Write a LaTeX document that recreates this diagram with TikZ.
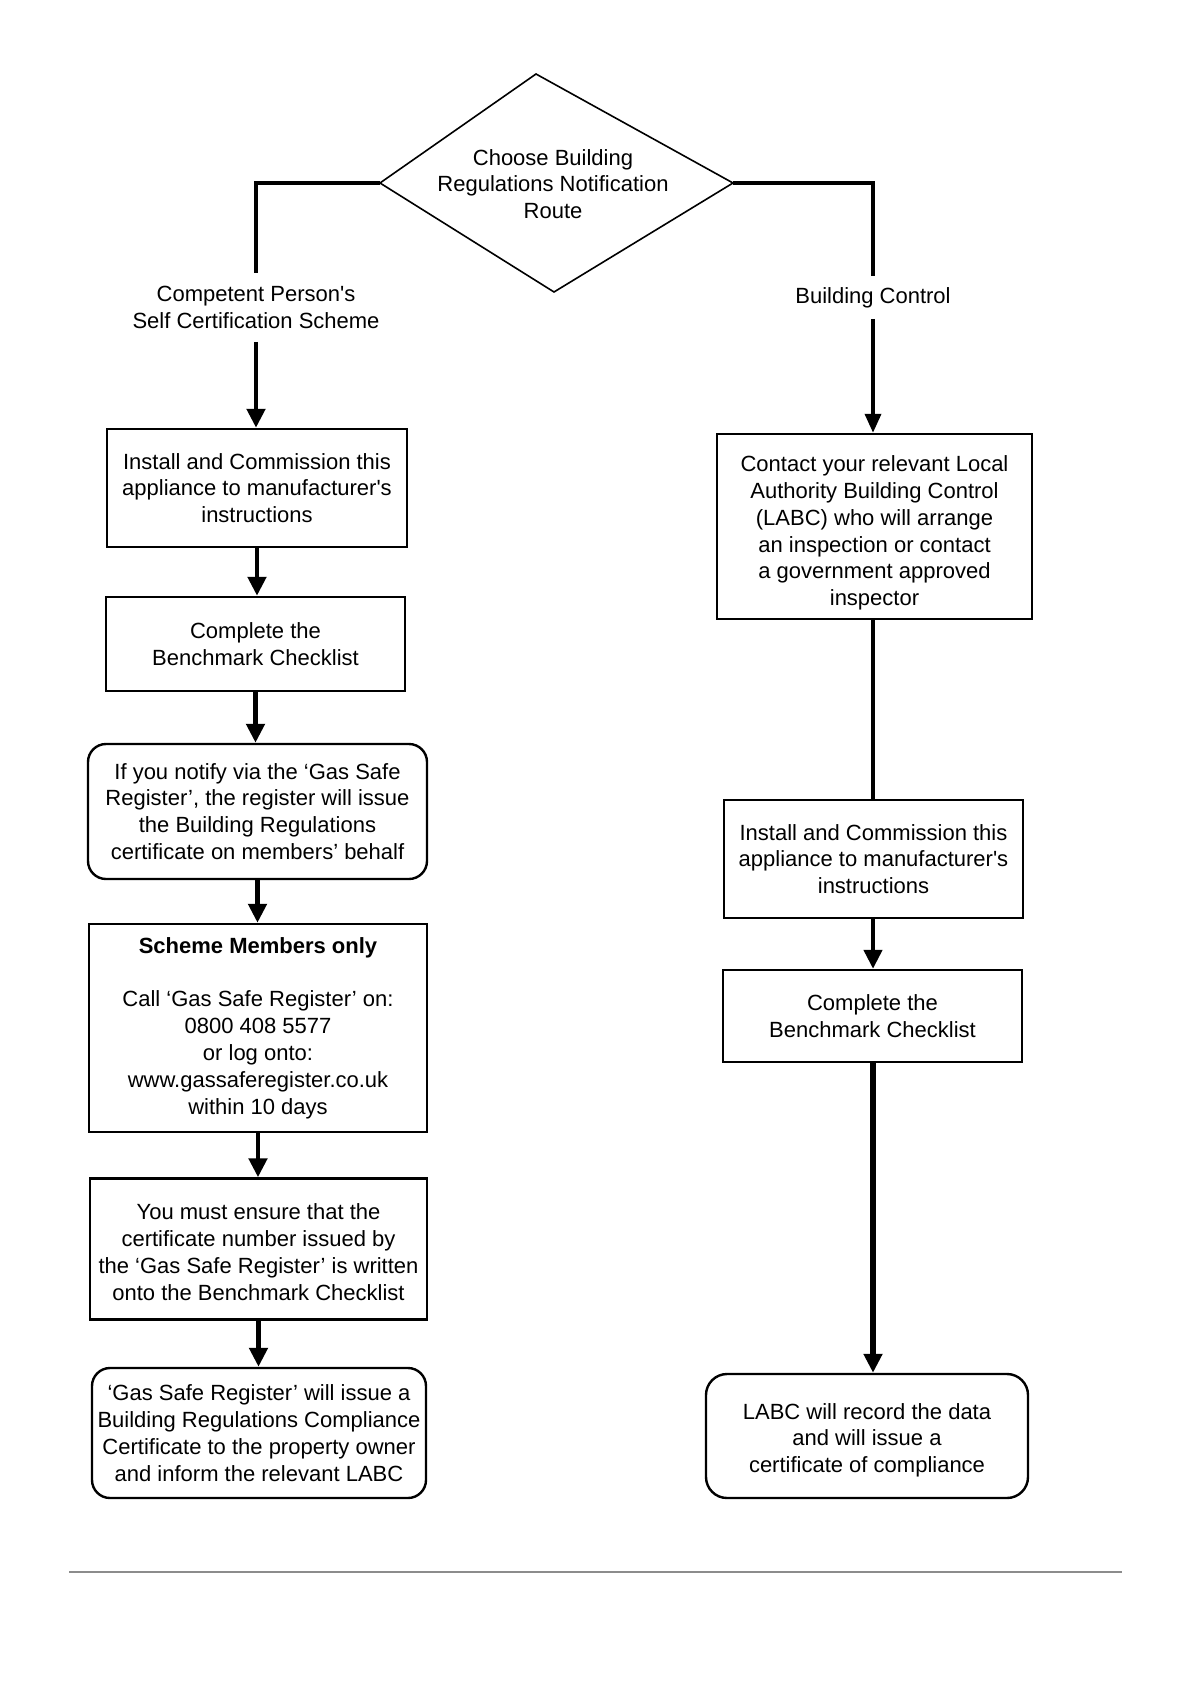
\documentclass[tikz,border=0pt]{standalone}
\usepackage{fontspec}
\setmainfont{Liberation Sans}[Ligatures=TeXOff]
\usetikzlibrary{arrows.meta}
\newcommand\topstrutx[1]{\rule{0pt}{#1}}
\begin{document}
\begin{tikzpicture}[x=0.5pt,y=-0.5pt,
  txt/.style={font=\fontsize{11}{13.4}\selectfont, align=center, inner sep=0pt},
  box/.style={txt, draw, line width=1.2pt},
  rbox/.style={box, rounded corners=9pt},
  diam/.style={draw, line width=0.8pt, line join=miter},
  conn/.style={line width=2.4pt},
  arr/.style={conn, -{Triangle[length=9.5pt,width=9pt]}},
  rule/.style={draw=black!45, line width=0.7pt}]
\useasboundingbox (0,0) rectangle (1190,1684);

% decision diamond
\coordinate (dT) at (536,74);
\coordinate (dR) at (733,183);
\coordinate (dB) at (554,292);
\coordinate (dL) at (380,183);
\draw[diam] (dT) -- (dR) -- (dB) -- (dL) -- cycle;
\node[txt] (dtext) at (553,184) {Choose Building\\Regulations Notification\\Route};

% branch labels
\node[txt, minimum height=34pt] (lab1) at (256,307.5) {Competent Person's\\Self Certification Scheme};
\node[txt, minimum height=21pt] (lab2) at (873,297.5) {Building Control};

% left column
\node[box, minimum width=150pt, minimum height=59pt] (L1) at (257,488)
  {Install and Commission this\\appliance to manufacturer's\\instructions};
\node[box, minimum width=149.5pt, minimum height=47pt] (L2) at (255.5,644)
  {Complete the\\Benchmark Checklist};
\node[rbox, minimum width=169.5pt, minimum height=67.5pt] (L3) at (257.5,811.5)
  {If you notify via the ‘Gas Safe\\Register’, the register will issue\\the Building Regulations\\certificate on members’ behalf};
\node[box, minimum width=169pt, minimum height=104pt] (L4) at (258,1028)
  {\textbf{Scheme Members only}\\[13.4pt]Call ‘Gas Safe Register’ on:\\0800 408 5577\\or log onto:\\www.gassaferegister.co.uk\\within 10 days};
\node[box, minimum width=168.5pt, minimum height=70.5pt] (L5) at (258.5,1249)
  {\topstrutx{11.2pt}You must ensure that the\\certificate number issued by\\the ‘Gas Safe Register’ is written\\onto the Benchmark Checklist};
\node[rbox, minimum width=167pt, minimum height=65pt] (L6) at (259,1433)
  {‘Gas Safe Register’ will issue a\\Building Regulations Compliance\\Certificate to the property owner\\and inform the relevant LABC};

% right column
\node[box, minimum width=157.5pt, minimum height=92.5pt] (R1) at (874.5,526.5)
  {\topstrutx{14.4pt}Contact your relevant Local\\Authority Building Control\\(LABC) who will arrange\\an inspection or contact\\a government approved\\inspector};
\node[box, minimum width=149.5pt, minimum height=59pt] (R2) at (873.5,859)
  {Install and Commission this\\appliance to manufacturer's\\instructions};
\node[box, minimum width=149.5pt, minimum height=46pt] (R3) at (872.5,1016)
  {Complete the\\Benchmark Checklist};
\node[rbox, rounded corners=10.5pt, minimum width=161pt, minimum height=62pt] (R4) at (867,1436)
  {\topstrutx{12.2pt}LABC will record the data\\and will issue a\\certificate of compliance};

% connectors: left route
\draw[conn, line width=2.2pt] (dL) -| (lab1.north);
\draw[arr] (lab1.south) -- (lab1.south |- L1.north);
\draw[arr] (L1.south) -- (L1.south |- L2.north);
\draw[arr] (L2.south) -- (L2.south |- L3.north);
\draw[arr] (L3.south) -- (L3.south |- L4.north);
\draw[arr] (L4.south) -- (L4.south |- L5.north);
\draw[arr] (L5.south) -- (L5.south |- L6.north);

% connectors: right route
\draw[conn, line width=2.2pt] (dR) -| (lab2.north);
\draw[arr, line width=1.8pt, -{Triangle[length=9.5pt,width=8pt]}] (lab2.south) -- (lab2.south |- R1.north);
\draw[conn, line width=1.6pt] (R1.south -| lab2.south) -- (lab2.south |- R2.north);
\draw[arr, line width=2.2pt] (R2.south -| lab2.south) -- (lab2.south |- R3.north);
\draw[arr, line width=3pt] (R3.south -| lab2.south) -- (lab2.south |- R4.north);

% page rule
\draw[rule] (69,1572) -- (1122,1572);
\end{tikzpicture}
\end{document}
